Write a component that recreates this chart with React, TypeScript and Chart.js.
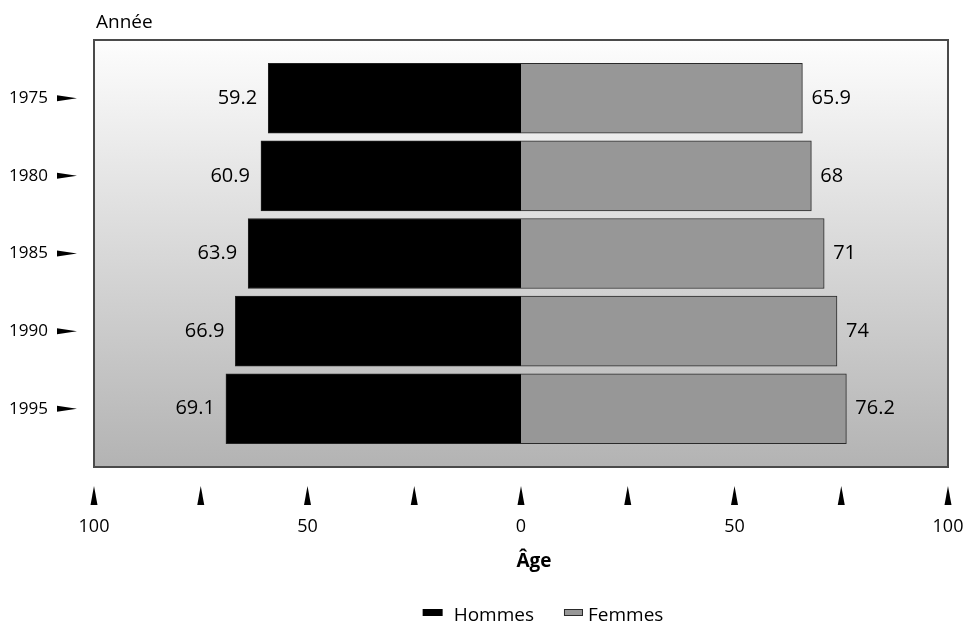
import React, { useEffect, useRef } from 'react';
import { Chart, registerables } from 'chart.js';

Chart.register(...registerables);

// Life expectancy at birth by year, men (left) and women (right)
const years = ['1975', '1980', '1985', '1990', '1995'];
const hommes = [59.2, 60.9, 63.9, 66.9, 69.1];
const femmes = [65.9, 68, 71, 74, 76.2];
const seriesNames = ['Hommes', 'Femmes'];
const seriesColors = ['#000000', '#979797'];
const seriesBorders = ['#222222', '#2a2a2a'];
const ageStep = 25;
const ageLabelStep = 50;
const yTitle = 'Année';
const xTitle = 'Âge';

const FONT = '"Open Sans", "Noto Sans", sans-serif';

const fmt = (v: number) => String(v);

// keep the plot rectangle fixed by the layout padding alone
const noScalePadding = (s: any) => {
  s.paddingLeft = 0;
  s.paddingRight = 0;
  s.paddingTop = 0;
  s.paddingBottom = 0;
};

const decorPlugin = {
  id: 'decor',
  beforeDatasetsDraw(chart: any) {
    const { ctx, chartArea: a } = chart;
    ctx.save();
    const g = ctx.createLinearGradient(0, a.top, 0, a.bottom);
    g.addColorStop(0, '#fdfdfd');
    g.addColorStop(1, '#b3b3b3');
    ctx.fillStyle = g;
    ctx.fillRect(a.left, a.top, a.right - a.left, a.bottom - a.top);
    ctx.strokeStyle = '#4a4a4a';
    ctx.lineWidth = 2;
    ctx.strokeRect(a.left, a.top, a.right - a.left, a.bottom - a.top);
    ctx.restore();
  },
  afterDatasetsDraw(chart: any) {
    const { ctx } = chart;
    ctx.save();
    ctx.font = `20px ${FONT}`;
    ctx.fillStyle = '#000';
    ctx.textBaseline = 'middle';
    chart.data.datasets.forEach((ds: any, di: number) => {
      const meta = chart.getDatasetMeta(di);
      meta.data.forEach((el: any, i: number) => {
        const v = Math.abs(ds.data[i].x);
        if (ds.data[i].x < 0) {
          ctx.textAlign = 'right';
          ctx.fillText(fmt(v), el.x - 11, el.y);
        } else {
          ctx.textAlign = 'left';
          ctx.fillText(fmt(v), el.x + 9, el.y);
        }
      });
    });
    ctx.restore();
  },
  afterDraw(chart: any) {
    const { ctx, chartArea: a } = chart;
    const xs = chart.scales.x;
    const ys = chart.scales.y;
    ctx.save();
    ctx.fillStyle = '#000';

    // arrows beside the year labels
    ys.ticks.forEach((t: any) => {
      const y = ys.getPixelForValue(t.value);
      ctx.beginPath();
      ctx.moveTo(a.left - 37, y - 3);
      ctx.lineTo(a.left - 17, y);
      ctx.lineTo(a.left - 37, y + 3);
      ctx.closePath();
      ctx.fill();
    });

    // triangular tick marks under the plot
    xs.ticks.forEach((t: any) => {
      const x = xs.getPixelForValue(t.value);
      ctx.beginPath();
      ctx.moveTo(x, a.bottom + 19);
      ctx.lineTo(x + 3.5, a.bottom + 38);
      ctx.lineTo(x - 3.5, a.bottom + 38);
      ctx.closePath();
      ctx.fill();
    });

    // axis titles
    ctx.font = `19px ${FONT}`;
    ctx.textAlign = 'left';
    ctx.textBaseline = 'alphabetic';
    ctx.fillText(yTitle, a.left + 2, 28);

    ctx.font = `bold 19px ${FONT}`;
    ctx.textAlign = 'center';
    ctx.fillText(xTitle, 534, 567);

    // legend
    ctx.font = `19px ${FONT}`;
    ctx.textAlign = 'left';
    const w0 = ctx.measureText(seriesNames[0]).width;
    const w1 = ctx.measureText(seriesNames[1]).width;
    const total = 20 + 11 + w0 + 30 + 19 + 5 + w1;
    let x = 543 - total / 2;
    const by = 609;
    ctx.fillStyle = seriesColors[0];
    ctx.fillRect(x, by, 20, 7);
    x += 31;
    ctx.fillStyle = '#000';
    ctx.fillText(seriesNames[0], x, 621);
    x += w0 + 30;
    ctx.fillStyle = seriesColors[1];
    ctx.fillRect(x, by, 19, 7);
    ctx.strokeStyle = seriesBorders[1];
    ctx.lineWidth = 1;
    ctx.strokeRect(x + 0.5, by + 0.5, 18, 6);
    x += 24;
    ctx.fillStyle = '#000';
    ctx.fillText(seriesNames[1], x, 621);
    ctx.restore();
  },
};

export default function App() {
  const ref = useRef<HTMLCanvasElement | null>(null);

  useEffect(() => {
    if (!ref.current) return;
    const chart = new Chart(ref.current, {
      type: 'bar',
      data: {
        datasets: [
          {
            label: seriesNames[0],
            data: hommes.map((v, i) => ({ x: -v, y: i })),
            backgroundColor: seriesColors[0],
            borderColor: seriesBorders[0],
            borderWidth: 1,
            barThickness: 70,
            grouped: false,
          } as any,
          {
            label: seriesNames[1],
            data: femmes.map((v, i) => ({ x: v, y: i })),
            backgroundColor: seriesColors[1],
            borderColor: seriesBorders[1],
            borderWidth: 1,
            barThickness: 70,
            grouped: false,
          } as any,
        ],
      },
      options: {
        indexAxis: 'y',
        responsive: false,
        animation: false,
        layout: { padding: { top: 40, right: 16, left: 0, bottom: 0 } },
        plugins: {
          legend: { display: false },
          title: { display: false },
          tooltip: { enabled: false },
        },
        scales: {
          y: {
            type: 'linear',
            offset: false,
            min: -0.75,
            max: years.length - 0.25,
            reverse: true,
            grid: { display: false, drawTicks: false },
            border: { display: false },
            afterBuildTicks: (s: any) => {
              s.ticks = years.map((_, i) => ({ value: i }));
            },
            afterFit: (s: any) => {
              s.width = 94;
              noScalePadding(s);
            },
            ticks: {
              callback: (v: any) => years[v] ?? '',
              color: '#000',
              padding: 46,
              font: { family: FONT, size: 17 },
            },
          },
          x: {
            type: 'linear',
            offset: false,
            min: -100,
            max: 100,
            grid: { display: false, drawTicks: false },
            border: { display: false },
            afterFit: (s: any) => {
              s.height = 155;
              noScalePadding(s);
            },
            ticks: {
              stepSize: ageStep,
              autoSkip: false,
              maxRotation: 0,
              callback: (v: any) =>
                Number(v) % ageLabelStep === 0 ? String(Math.abs(Number(v))) : '',
              color: '#000',
              padding: 49,
              font: { family: FONT, size: 18 },
            },
          },
        },
      } as any,
      plugins: [decorPlugin],
    });
    return () => chart.destroy();
  }, []);

  return (
    <div style={{ position: 'absolute', left: 0, top: 0, width: 964, height: 622 }}>
      <canvas ref={ref} width={964} height={622} />
    </div>
  );
}
